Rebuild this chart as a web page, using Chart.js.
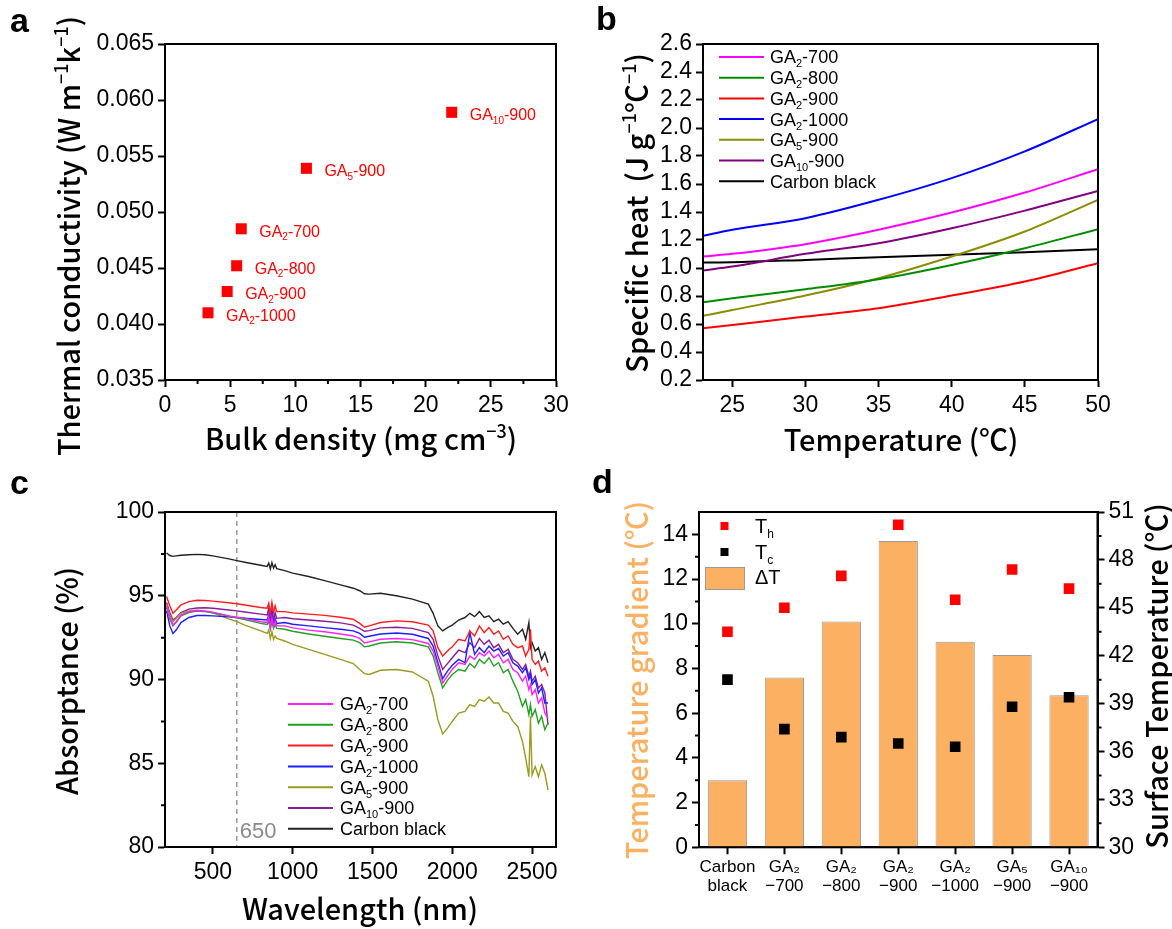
<!DOCTYPE html>
<html>
<head>
<meta charset="utf-8">
<script src="https://cdn.jsdelivr.net/npm/chart.js@4.4.1/dist/chart.umd.min.js"></script>
<style>
  html, body { margin: 0; padding: 0; background: #fff; }
  #fig { position: relative; width: 1172px; height: 929px; overflow: hidden; background: #fff; }
  .panel { position: absolute; }
  .tag { position: absolute; font: bold 34px "Liberation Sans", Arial, sans-serif; color: #000; line-height: 1; }
</style>
</head>
<body>
<div id="fig">
  <div class="panel" style="left:0;top:0;"><canvas id="chartA" width="586" height="465"></canvas></div>
  <div class="panel" style="left:586px;top:0;"><canvas id="chartB" width="586" height="465"></canvas></div>
  <div class="panel" style="left:0;top:465px;"><canvas id="chartC" width="586" height="464"></canvas></div>
  <div class="panel" style="left:586px;top:465px;"><canvas id="chartD" width="586" height="464"></canvas></div>
  <div class="tag" style="left:10px;top:3px;">a</div>
  <div class="tag" style="left:596px;top:1px;">b</div>
  <div class="tag" style="left:10px;top:465px;">c</div>
  <div class="tag" style="left:592px;top:464px;">d</div>
</div>
<script>
// ---------- (a) thermal conductivity vs bulk density ----------
const aerogelNames = ['GA_{10}-900', 'GA_{5}-900', 'GA_{2}-700', 'GA_{2}-800', 'GA_{2}-900', 'GA_{2}-1000'];
const bulkDensity = [22.0, 10.85, 5.85, 5.5, 4.77, 3.3];
const thermalConductivity = [0.0589, 0.0539, 0.0485, 0.0452, 0.0429, 0.0410];
const densityTicks = [0, 5, 10, 15, 20, 25, 30];
const densityMinorTicks = [2.5, 7.5, 12.5, 17.5, 22.5, 27.5];
const conductivityTicks = [0.035, 0.040, 0.045, 0.050, 0.055, 0.060, 0.065];

// ---------- (b) specific heat vs temperature ----------
const heatSeriesNames = ['GA_{2}-700', 'GA_{2}-800', 'GA_{2}-900', 'GA_{2}-1000', 'GA_{5}-900', 'GA_{10}-900', 'Carbon black'];
const temperatures = [23, 25, 30, 35, 40, 45, 50];
const heatGA2_700  = [1.082, 1.101, 1.170, 1.273, 1.396, 1.539, 1.706];
const heatGA2_800  = [0.755, 0.784, 0.848, 0.920, 1.022, 1.141, 1.277];
const heatGA2_900  = [0.569, 0.593, 0.653, 0.712, 0.803, 0.903, 1.034];
const heatGA2_1000 = [1.230, 1.273, 1.356, 1.487, 1.642, 1.833, 2.064];
const heatGA5_900  = [0.658, 0.700, 0.803, 0.927, 1.082, 1.261, 1.487];
const heatGA10_900 = [0.982, 1.010, 1.101, 1.177, 1.284, 1.410, 1.551];
const heatCarbon   = [1.039, 1.041, 1.058, 1.077, 1.094, 1.113, 1.134];
const temperatureTicks = [25, 30, 35, 40, 45, 50];
const heatTicks = [0.2, 0.4, 0.6, 0.8, 1.0, 1.2, 1.4, 1.6, 1.8, 2.0, 2.2, 2.4, 2.6];

// ---------- (c) absorptance spectra ----------
const wavelengths = [
  210, 230, 250, 270, 300,  350, 400, 450, 500, 600,  650, 700, 800, 840, 850,
  860, 870, 880, 890, 900,  950, 1000, 1100, 1200, 1300,  1380, 1420, 1450, 1480, 1550,
  1650, 1750, 1850, 1880, 1910,  1940, 1970, 2000, 2040, 2080,  2110, 2140, 2170, 2200, 2230,
  2260, 2290, 2320, 2350, 2380,  2410, 2440, 2460, 2480, 2490,  2500, 2520, 2540, 2560, 2580,
  2600
];
const absGA2_700 = [
  94.40, 93.70, 93.25, 93.45, 93.85,  94.05, 94.12, 94.10, 94.02, 93.80,  93.72, 93.65, 93.45, 93.40, 93.75,
  93.10, 93.70, 93.15, 93.50, 93.20,  93.20, 93.08, 92.95, 92.85, 92.72,  92.60, 92.45, 92.18, 92.25, 92.40,
  92.45, 92.38, 92.15, 91.70, 90.80,  89.80, 90.20, 90.60, 91.00, 90.90,  91.40, 91.20, 91.60, 91.40, 91.70,
  91.30, 91.50, 91.00, 91.20, 90.60,  90.40, 89.90, 90.20, 89.40, 89.70,  89.10, 89.40, 88.60, 88.90, 88.00,
  87.70
];
const absGA2_800 = [
  94.30, 93.60, 93.20, 93.40, 93.80,  94.00, 94.08, 94.05, 93.98, 93.78,  93.68, 93.58, 93.35, 93.28, 93.50,
  93.00, 93.45, 93.05, 93.30, 93.05,  93.00, 92.88, 92.72, 92.58, 92.45,  92.35, 92.20, 91.95, 92.00, 92.18,
  92.25, 92.18, 91.95, 91.40, 90.40,  89.50, 89.95, 90.30, 90.60, 90.50,  90.95, 90.70, 91.20, 90.95, 91.30,
  90.80, 91.00, 90.40, 90.60, 89.90,  89.30, 88.40, 88.80, 87.90, 88.50,  87.80, 88.20, 87.40, 87.80, 87.00,
  87.40
];
const absGA2_900 = [
  94.95, 94.40, 93.95, 94.15, 94.45,  94.65, 94.73, 94.72, 94.68, 94.58,  94.52, 94.45, 94.30, 94.25, 94.55,
  93.95, 94.60, 94.00, 94.40, 94.05,  94.05, 93.98, 93.90, 93.83, 93.72,  93.60, 93.35, 93.12, 93.20, 93.40,
  93.50, 93.45, 93.25, 92.90, 91.90,  91.40, 91.70, 91.95, 92.40, 92.30,  92.90, 92.60, 93.20, 92.80, 93.10,
  92.70, 92.90, 92.40, 92.60, 92.10,  91.90, 92.00, 91.40, 91.80, 93.00,  91.20, 90.90, 91.10, 90.50, 90.70,
  90.20
];
const absGA2_1000 = [
  94.10, 93.20, 92.75, 92.95, 93.40,  93.70, 93.82, 93.82, 93.80, 93.74,  93.70, 93.66, 93.58, 93.55, 93.85,
  93.20, 93.90, 93.25, 93.65, 93.35,  93.40, 93.30, 93.20, 93.10, 93.00,  92.90, 92.75, 92.52, 92.58, 92.72,
  92.78, 92.70, 92.45, 92.00, 91.00,  90.05, 90.50, 90.85, 91.20, 91.00,  92.80, 91.50, 91.90, 91.60, 92.00,
  91.70, 91.85, 91.40, 91.60, 91.00,  90.80, 90.40, 90.70, 90.00, 90.30,  89.70, 90.00, 89.20, 89.50, 88.60,
  88.60
];
const absGA5_900 = [
  94.50, 93.85, 93.45, 93.65, 93.95,  94.10, 94.13, 94.08, 93.98, 93.62,  93.45, 93.25, 92.90, 92.75, 92.95,
  92.45, 92.85, 92.40, 92.60, 92.45,  92.30, 92.10, 91.80, 91.50, 91.20,  90.95, 90.60, 90.35, 90.30, 90.55,
  90.60, 90.45, 89.90, 89.00, 87.60,  86.75, 87.10, 87.50, 88.00, 88.10,  88.50, 88.40, 88.80, 88.70, 88.95,
  88.60, 88.60, 88.10, 88.00, 87.50,  87.20, 86.30, 85.30, 84.20, 87.80,  84.30, 84.80, 84.20, 84.90, 84.40,
  83.40
];
const absGA10_900 = [
  94.60, 94.00, 93.55, 93.70, 94.00,  94.20, 94.27, 94.28, 94.25, 94.15,  94.10, 94.03, 93.90, 93.85, 94.25,
  93.50, 94.20, 93.55, 94.00, 93.65,  93.70, 93.63, 93.55, 93.48, 93.38,  93.25, 93.05, 92.88, 92.92, 93.08,
  93.12, 93.05, 92.80, 92.40, 91.40,  90.60, 90.95, 91.30, 91.75, 91.60,  92.20, 91.90, 92.45, 92.10, 92.35,
  91.90, 92.10, 91.60, 91.80, 91.20,  91.00, 90.60, 90.90, 90.20, 90.50,  89.90, 90.20, 89.50, 89.70, 89.20,
  87.30
];
const absCarbon = [
  97.55, 97.40, 97.35, 97.38, 97.42,  97.45, 97.47, 97.45, 97.38, 97.20,  97.10, 97.00, 96.82, 96.75, 96.95,
  96.60, 96.98, 96.65, 96.85, 96.62,  96.50, 96.35, 96.15, 95.90, 95.65,  95.45, 95.30, 95.12, 95.10, 95.15,
  95.00, 94.80, 94.50, 93.95, 93.20,  92.90, 93.10, 93.25, 93.55, 93.70,  93.95, 93.75, 94.05, 93.70, 93.80,
  93.45, 93.60, 93.30, 93.45, 93.05,  92.70, 93.00, 92.40, 93.40, 91.90,  92.20, 91.70, 91.90, 91.20, 91.60,
  91.00
];
const markerWavelength = 650;
const wavelengthTicks = [500, 1000, 1500, 2000, 2500];
const absorptanceTicks = [80, 85, 90, 95, 100];
const absorptanceMinorTicks = [82.5, 87.5, 92.5, 97.5];

// ---------- (d) temperature gradient & surface temperatures ----------
const sampleLabels = [['Carbon', 'black'], ['GA₂', '−700'], ['GA₂', '−800'], ['GA₂', '−900'], ['GA₂', '−1000'], ['GA₅', '−900'], ['GA₁₀', '−900']];
const deltaT = [3.0, 7.6, 10.1, 13.7, 9.2, 8.6, 6.8];
const hotSideT = [43.5, 45.0, 47.0, 50.2, 45.5, 47.4, 46.2];
const coldSideT = [40.5, 37.4, 36.9, 36.5, 36.3, 38.8, 39.4];
const gradientTicks = [0, 2, 4, 6, 8, 10, 12, 14];
const gradientMinorTicks = [1, 3, 5, 7, 9, 11, 13];
const surfaceTicks = [30, 33, 36, 39, 42, 45, 48, 51];
const surfaceMinorTicks = [31.5, 34.5, 37.5, 40.5, 43.5, 46.5, 49.5];

// ---------- shared styling ----------
const SANS = '"Liberation Sans", Arial, sans-serif';
const TITLE = '"Noto Sans CJK SC", "Noto Sans", sans-serif';
const palette = {
  magenta: '#FF00FF', green: '#008C00', red: '#FF0000', blue: '#0000FF',
  olive: '#8C8C00', purple: '#800080', black: '#000000'
};
const specColors = ['#FF20FF', '#22A022', '#FF1E1E', '#1E1EFF', '#9A9A22', '#8A1E9A', '#222222'];
const orange = '#FBB062';

Chart.defaults.font.family = SANS;
Chart.defaults.color = '#000';

// text with _{sub} and ^{sup} runs
function parseRich(s) {
  const out = []; const re = /([_^])\{([^}]*)\}/g; let last = 0, m;
  while ((m = re.exec(s))) {
    if (m.index > last) out.push({ t: s.slice(last, m.index), k: '' });
    out.push({ t: m[2], k: m[1] });
    last = re.lastIndex;
  }
  if (last < s.length) out.push({ t: s.slice(last), k: '' });
  return out;
}
function drawRich(ctx, s, x, y, o) {
  const size = o.size, fam = o.family || SANS, wt = o.weight || 'normal';
  const segs = parseRich(s);
  const fontFor = k => `${wt} ${k ? Math.round(size * 0.62) : size}px ${fam}`;
  let w = 0;
  for (const g of segs) { ctx.font = fontFor(g.k); g.w = ctx.measureText(g.t).width; w += g.w; }
  ctx.save();
  ctx.translate(x, y);
  if (o.rotate) ctx.rotate(o.rotate);
  ctx.fillStyle = o.color || '#000';
  ctx.textBaseline = 'alphabetic';
  ctx.textAlign = 'left';
  let cx = o.align === 'center' ? -w / 2 : (o.align === 'right' ? -w : 0);
  const base = size * 0.36;
  for (const g of segs) {
    ctx.font = fontFor(g.k);
    const dy = g.k === '_' ? size * 0.22 : (g.k === '^' ? -size * 0.42 : 0);
    ctx.fillText(g.t, cx, base + dy);
    cx += g.w;
  }
  ctx.restore();
  return w;
}
function drawFrame(chart) {
  const { ctx, chartArea: a } = chart;
  ctx.save(); ctx.strokeStyle = '#000'; ctx.lineWidth = 2;
  ctx.strokeRect(a.left, a.top, a.right - a.left, a.bottom - a.top);
  ctx.restore();
}
function drawMinor(chart, id, values, side, len) {
  const s = chart.scales[id], a = chart.chartArea, ctx = chart.ctx;
  ctx.save(); ctx.strokeStyle = '#000'; ctx.lineWidth = 2; ctx.beginPath();
  for (const v of values) {
    const p = s.getPixelForValue(v);
    if (side === 'bottom') { ctx.moveTo(p, a.bottom); ctx.lineTo(p, a.bottom + len); }
    else if (side === 'left') { ctx.moveTo(a.left, p); ctx.lineTo(a.left - len, p); }
    else { ctx.moveTo(a.right, p); ctx.lineTo(a.right + len, p); }
  }
  ctx.stroke(); ctx.restore();
}
function drawLineLegend(ctx, names, colors, x0, x1, tx, y0, step, width) {
  names.forEach((n, i) => {
    const y = y0 + i * step;
    ctx.save(); ctx.strokeStyle = colors[i]; ctx.lineWidth = width;
    ctx.beginPath(); ctx.moveTo(x0, y); ctx.lineTo(x1, y); ctx.stroke(); ctx.restore();
    drawRich(ctx, n, tx, y, { size: 18 });
  });
}
function axisBase(extra) {
  return Object.assign({
    border: { display: true, color: '#000', width: 2 },
    grid: { display: true, drawOnChartArea: false, drawTicks: true, tickLength: 7, tickWidth: 2, tickColor: '#000', color: '#000' }
  }, extra);
}
// numeric axis whose tick positions come from a fixed list
function fixedTicks(list) { return s => { s.ticks = list.map(v => ({ value: v })); }; }
function numTicks(extra) {
  return Object.assign({ font: { family: SANS, size: 23 }, padding: 4, maxRotation: 0, autoSkip: false, callback: v => String(v) }, extra);
}
const baseOptions = {
  responsive: false, animation: false, events: [],
  plugins: { legend: { display: false }, tooltip: { enabled: false } }
};

// ---------- chart a ----------
new Chart(document.getElementById('chartA'), {
  type: 'scatter',
  data: {
    datasets: [{
      data: bulkDensity.map((d, i) => ({ x: d, y: thermalConductivity[i] })),
      backgroundColor: '#FF0000', borderColor: '#FF0000', borderWidth: 0,
      pointStyle: 'rect', pointRadius: 7.8, pointHoverRadius: 7.8
    }]
  },
  options: Object.assign({}, baseOptions, {
    layout: { padding: { left: 0, top: 44, right: 30, bottom: 0 } },
    scales: {
      x: axisBase({
        type: 'linear', min: 0, max: 30,
        ticks: numTicks({ padding: 5 }),
        afterBuildTicks: fixedTicks(densityTicks),
        afterFit: s => { s.height = 85; }
      }),
      y: axisBase({
        min: 0.035, max: 0.065,
        ticks: numTicks({ callback: v => v.toFixed(3) }),
        afterBuildTicks: fixedTicks(conductivityTicks),
        afterFit: s => { s.width = 165; }
      })
    }
  }),
  plugins: [{
    id: 'panelA',
    afterDraw(chart) {
      const ctx = chart.ctx;
      drawFrame(chart);
      drawMinor(chart, 'x', densityMinorTicks, 'bottom', 4);
      chart.getDatasetMeta(0).data.forEach((pt, i) => {
        drawRich(ctx, aerogelNames[i], pt.x + 18, pt.y + 2, { size: 16, color: '#FF0000' });
      });
      drawRich(ctx, 'Thermal conductivity (W m^{−1}k^{−1})', 70, 236, { size: 29, family: TITLE, weight: 500, align: 'center', rotate: -Math.PI / 2 });
      drawRich(ctx, 'Bulk density (mg cm^{−3})', 361, 440, { size: 29, family: TITLE, weight: 500, align: 'center' });
    }
  }]
});

// ---------- chart b ----------
const heatSeries = [heatGA2_700, heatGA2_800, heatGA2_900, heatGA2_1000, heatGA5_900, heatGA10_900, heatCarbon];
const heatColors = [palette.magenta, palette.green, palette.red, palette.blue, palette.olive, palette.purple, palette.black];
new Chart(document.getElementById('chartB'), {
  type: 'scatter',
  data: {
    datasets: heatSeries.map((vals, i) => ({
      data: temperatures.map((t, j) => ({ x: t, y: vals[j] })),
      showLine: true, borderColor: heatColors[i], borderWidth: 2, pointRadius: 0,
      cubicInterpolationMode: 'monotone'
    }))
  },
  options: Object.assign({}, baseOptions, {
    layout: { padding: { left: 0, top: 44, right: 74, bottom: 0 } },
    scales: {
      x: axisBase({
        type: 'linear', min: 23, max: 50,
        ticks: numTicks({ padding: 5 }),
        afterBuildTicks: fixedTicks(temperatureTicks),
        afterFit: s => { s.height = 85; }
      }),
      y: axisBase({
        min: 0.2, max: 2.6,
        ticks: numTicks({ callback: v => v.toFixed(1) }),
        afterBuildTicks: fixedTicks(heatTicks),
        afterFit: s => { s.width = 117; }
      })
    }
  }),
  plugins: [{
    id: 'panelB',
    afterDraw(chart) {
      const ctx = chart.ctx;
      drawFrame(chart);
      drawLineLegend(ctx, heatSeriesNames, heatColors, 133, 178, 184, 57, 20.7, 2);
      drawRich(ctx, 'Specific heat  (J g^{−1}℃^{−1})', 52, 213, { size: 29, family: TITLE, weight: 500, align: 'center', rotate: -Math.PI / 2 });
      drawRich(ctx, 'Temperature (℃)', 315, 441, { size: 29, family: TITLE, weight: 500, align: 'center' });
    }
  }]
});

// ---------- chart c ----------
const specSeries = [absGA2_700, absGA2_800, absGA2_900, absGA2_1000, absGA5_900, absGA10_900, absCarbon];
new Chart(document.getElementById('chartC'), {
  type: 'scatter',
  data: {
    datasets: specSeries.map((vals, i) => ({
      data: wavelengths.map((w, j) => ({ x: w, y: vals[j] })),
      showLine: true, borderColor: specColors[i], borderWidth: 1.4, pointRadius: 0, tension: 0
    }))
  },
  options: Object.assign({}, baseOptions, {
    layout: { padding: { left: 0, top: 47, right: 30, bottom: 0 } },
    scales: {
      x: axisBase({
        type: 'linear', min: 200, max: 2650,
        ticks: numTicks({ padding: 5 }),
        afterBuildTicks: fixedTicks(wavelengthTicks),
        afterFit: s => { s.height = 82; }
      }),
      y: axisBase({
        min: 80, max: 100,
        ticks: numTicks({}),
        afterBuildTicks: fixedTicks(absorptanceTicks),
        afterFit: s => { s.width = 165; }
      })
    }
  }),
  plugins: [{
    id: 'panelC',
    beforeDatasetsDraw(chart) {
      const { ctx, chartArea: a } = chart;
      const x = chart.scales.x.getPixelForValue(markerWavelength);
      ctx.save(); ctx.strokeStyle = '#8A8A8A'; ctx.lineWidth = 1.3; ctx.setLineDash([5, 4]);
      ctx.beginPath(); ctx.moveTo(x, a.top); ctx.lineTo(x, a.bottom); ctx.stroke(); ctx.restore();
      drawRich(ctx, String(markerWavelength), x + 3, a.bottom - 17, { size: 22, color: '#8A8A8A' });
    },
    afterDraw(chart) {
      const ctx = chart.ctx;
      drawFrame(chart);
      drawMinor(chart, 'y', absorptanceMinorTicks, 'left', 4);
      drawLineLegend(ctx, heatSeriesNames, specColors, 288, 333, 340, 239, 20.8, 2);
      drawRich(ctx, 'Absorptance (%)', 68, 216, { size: 29, family: TITLE, weight: 500, align: 'center', rotate: -Math.PI / 2 });
      drawRich(ctx, 'Wavelength (nm)', 360, 445, { size: 29, family: TITLE, weight: 500, align: 'center' });
    }
  }]
});

// ---------- chart d ----------
new Chart(document.getElementById('chartD'), {
  type: 'bar',
  data: {
    labels: sampleLabels,
    datasets: [
      { type: 'line', data: hotSideT, yAxisID: 'y1', showLine: false, pointStyle: 'rect',
        pointRadius: 7.5, pointHoverRadius: 7.5, backgroundColor: '#FF0000', borderColor: '#FF0000', borderWidth: 0, order: 0 },
      { type: 'line', data: coldSideT, yAxisID: 'y1', showLine: false, pointStyle: 'rect',
        pointRadius: 7.5, pointHoverRadius: 7.5, backgroundColor: '#000000', borderColor: '#000000', borderWidth: 0, order: 1 },
      { type: 'bar', data: deltaT, yAxisID: 'y', backgroundColor: orange, borderColor: '#9A9A9A', borderWidth: 1,
        barPercentage: 0.69, categoryPercentage: 1, order: 2 }
    ]
  },
  options: Object.assign({}, baseOptions, {
    layout: { padding: { left: 0, top: 47, right: 0, bottom: 0 } },
    scales: {
      x: axisBase({
        type: 'category', offset: true,
        grid: { display: true, offset: false, drawOnChartArea: false, drawTicks: true, tickLength: 7, tickWidth: 2, tickColor: '#000', color: '#000' },
        ticks: { font: { family: SANS, size: 17, lineHeight: 1.08 }, padding: 4, maxRotation: 0, autoSkip: false },
        afterFit: s => { s.height = 81.7; }
      }),
      y: axisBase({
        position: 'left', min: 0, max: 15,
        ticks: numTicks({}),
        afterBuildTicks: fixedTicks(gradientTicks),
        afterFit: s => { s.width = 113; }
      }),
      y1: axisBase({
        position: 'right', min: 30, max: 51,
        ticks: numTicks({}),
        afterBuildTicks: fixedTicks(surfaceTicks),
        afterFit: s => { s.width = 74.5; }
      })
    }
  }),
  plugins: [{
    id: 'panelD',
    afterDraw(chart) {
      const ctx = chart.ctx;
      drawFrame(chart);
      drawMinor(chart, 'y', gradientMinorTicks, 'left', 4);
      drawMinor(chart, 'y1', surfaceMinorTicks, 'right', 4);
      // legend
      ctx.save();
      ctx.fillStyle = '#FF0000'; ctx.fillRect(134.5, 57, 8, 8);
      ctx.fillStyle = '#000000'; ctx.fillRect(134.5, 83, 8, 8);
      ctx.fillStyle = orange; ctx.strokeStyle = '#9A9A9A'; ctx.lineWidth = 1;
      ctx.fillRect(119, 102, 39, 22); ctx.strokeRect(119.5, 102.5, 39, 22);
      ctx.restore();
      drawRich(ctx, 'T_{h}', 169, 61, { size: 20 });
      drawRich(ctx, 'T_{c}', 169, 87, { size: 20 });
      drawRich(ctx, 'ΔT', 169, 112, { size: 20 });
      drawRich(ctx, 'Temperature gradient (℃)', 52, 215, { size: 29, family: TITLE, weight: 500, align: 'center', rotate: -Math.PI / 2, color: orange });
      drawRich(ctx, 'Surface Temperature (℃)', 572, 211, { size: 29, family: TITLE, weight: 500, align: 'center', rotate: -Math.PI / 2 });
    }
  }]
});
</script>
</body>
</html>
